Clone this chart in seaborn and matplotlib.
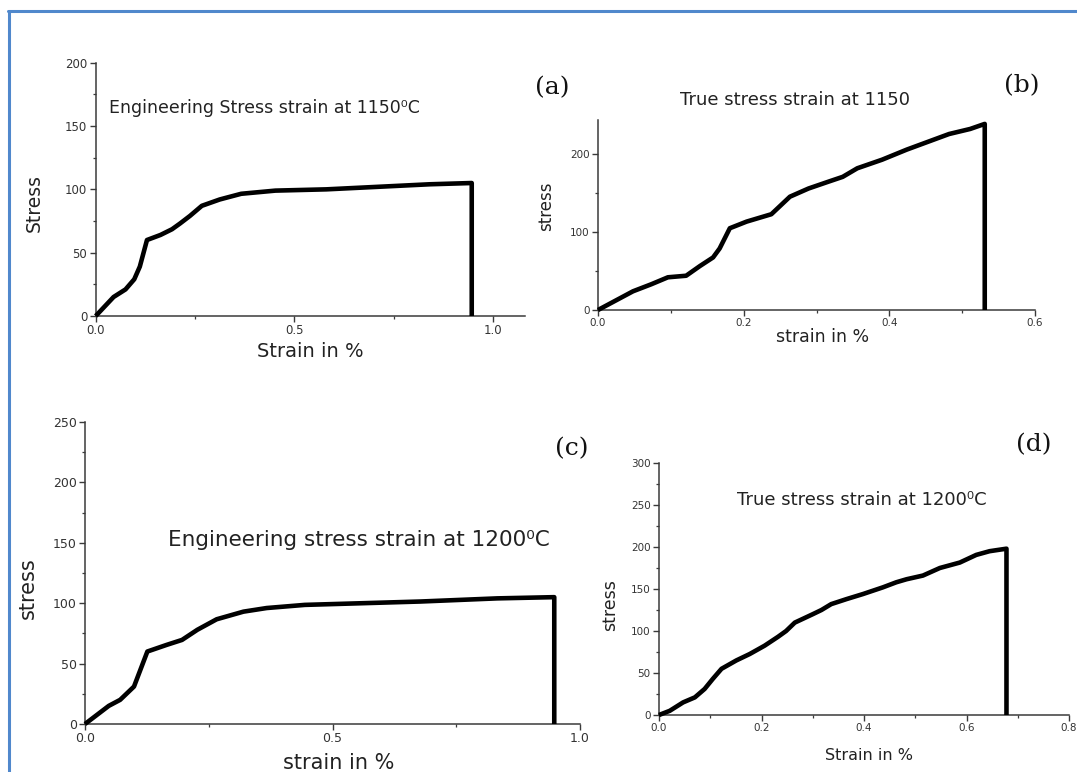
import matplotlib
matplotlib.use("Agg")
import matplotlib.pyplot as plt
from matplotlib.lines import Line2D
from matplotlib.ticker import MultipleLocator, FormatStrFormatter
import seaborn as sns

# ---- data -------------------------------------------------------------
# (a) engineering stress-strain at 1150 C
strain_a = [0, 0.045, 0.075, 0.097, 0.111, 0.129, 0.163, 0.192, 0.212, 0.237,
            0.267, 0.312, 0.366, 0.452, 0.58, 0.71, 0.84, 0.946, 0.946]
stress_a = [0, 15, 21, 29, 39, 60, 64, 68.5, 73, 79,
            87, 92, 96.5, 99, 100, 102, 104, 105, 0]

# (b) true stress-strain at 1150 C
strain_b = [0, 0.048, 0.073, 0.096, 0.121, 0.14, 0.158, 0.167, 0.181, 0.204,
            0.238, 0.2635, 0.289, 0.317, 0.336, 0.356, 0.39, 0.424, 0.453,
            0.482, 0.511, 0.531, 0.531]
stress_b = [0, 24, 33, 42, 44, 56.5, 67.5, 79, 105, 113.5,
            123, 145.5, 156, 165, 171, 182, 193, 206, 216,
            226, 232.5, 239, 0]

# (c) engineering stress-strain at 1200 C
strain_c = [0, 0.048, 0.071, 0.099, 0.126, 0.165, 0.196, 0.227, 0.266, 0.32,
            0.367, 0.444, 0.561, 0.678, 0.833, 0.948, 0.948]
stress_c = [0, 15, 20, 31, 60, 65.5, 69.6, 78, 86.7, 93,
            96, 98.6, 100, 101.4, 104, 105, 0]

# (d) true stress-strain at 1200 C
strain_d = [0, 0.021, 0.047, 0.07, 0.089, 0.105, 0.122, 0.151, 0.177, 0.206,
            0.232, 0.248, 0.265, 0.30, 0.317, 0.336, 0.366, 0.398, 0.437,
            0.463, 0.483, 0.515, 0.548, 0.587, 0.619, 0.645, 0.678, 0.678]
stress_d = [0, 5, 15, 21, 31, 43, 55, 65, 72.6, 82.5,
            93, 100, 110, 120, 125, 132, 138, 144, 152,
            158, 161.6, 166, 175, 181.5, 190.6, 195, 198, 0]

titles = ["Engineering Stress strain at 1150\u2070C",
          "True stress strain at 1150",
          "Engineering stress strain at 1200\u2070C",
          "True stress strain at 1200\u2070C"]
xlabels = ["Strain in %", "strain in %", "strain in %", "Strain in %"]
ylabels = ["Stress", "stress", "stress", "stress"]
panel_tags = ["(a)", "(b)", "(c)", "(d)"]

# ---- style ------------------------------------------------------------
sns.set_style("ticks")
plt.rcParams["font.family"] = ["DejaVu Sans"]
AX_COL = "#3a3a3a"

W, H = 1077, 772
fig = plt.figure(figsize=(W / 100, H / 100), dpi=100)
fig.patch.set_facecolor("white")


def px_axes(left, right, top, bottom):
    return fig.add_axes([left / W, 1 - bottom / H, (right - left) / W, (bottom - top) / H])


def style_axes(ax, xlim, ylim, xmaj, xmin, ymaj, ymin, xfmt, tick_fs):
    ax.set_xlim(*xlim)
    ax.set_ylim(*ylim)
    ax.xaxis.set_major_locator(MultipleLocator(xmaj))
    ax.xaxis.set_minor_locator(MultipleLocator(xmin))
    ax.yaxis.set_major_locator(MultipleLocator(ymaj))
    ax.yaxis.set_minor_locator(MultipleLocator(ymin))
    ax.xaxis.set_major_formatter(FormatStrFormatter(xfmt))
    ax.yaxis.set_major_formatter(FormatStrFormatter("%d"))
    sns.despine(ax=ax)
    for s in ("left", "bottom"):
        ax.spines[s].set_color(AX_COL)
        ax.spines[s].set_linewidth(1.1)
    ax.tick_params(which="major", direction="out", length=4, width=1,
                   color=AX_COL, labelcolor="#333333", labelsize=tick_fs, pad=2)
    ax.tick_params(which="minor", direction="out", length=2.5, width=0.9, color=AX_COL)
    ax.set_facecolor("white")
    ax.grid(False)


def draw_curve(ax, x, y):
    sns.lineplot(x=x, y=y, ax=ax, sort=False, estimator=None, color="black",
                 linewidth=3.3, clip_on=False, zorder=5,
                 solid_joinstyle="round", solid_capstyle="butt")


def labels(ax, xl, yl, fs_x, fs_y, xpos, ypos):
    ax.set_xlabel(xl, fontsize=fs_x, color="#222222")
    ax.set_ylabel(yl, fontsize=fs_y, color="#222222")
    ax.xaxis.set_label_coords(*xpos)
    ax.yaxis.set_label_coords(*ypos)
    ax.xaxis.label.set_va("center")
    ax.yaxis.label.set_va("center")


# (a)
ax_a = px_axes(95.7, 525, 62.7, 316)
draw_curve(ax_a, strain_a, stress_a)
style_axes(ax_a, (0, 1.08), (0, 200), 0.5, 0.25, 50, 25, "%.1f", 8.5)
ax_a.set_xticks([0, 0.5, 1.0])
labels(ax_a, xlabels[0], ylabels[0], 14, 13.5, (0.50, -0.142), (-0.144, 0.448))
ax_a.text(0.032, 0.82, titles[0], transform=ax_a.transAxes, ha="left", va="center",
          fontsize=12.5, color="#222222")

# (b)
ax_b = px_axes(598, 1035, 120, 310)
draw_curve(ax_b, strain_b, stress_b)
style_axes(ax_b, (0, 0.6), (0, 244), 0.2, 0.1, 100, 50, "%.1f", 7.5)
labels(ax_b, xlabels[1], ylabels[1], 12.5, 12, (0.513, -0.142), (-0.119, 0.547))
ax_b.text(0.45, 1.105, titles[1], transform=ax_b.transAxes, ha="center", va="center",
          fontsize=13, color="#222222")

# (c)
ax_c = px_axes(85, 580, 422, 724)
draw_curve(ax_c, strain_c, stress_c)
style_axes(ax_c, (0, 1.0), (0, 250), 0.5, 0.25, 50, 25, "%.1f", 9)
labels(ax_c, xlabels[2], ylabels[2], 15, 15, (0.513, -0.129), (-0.115, 0.45))
ax_c.text(0.168, 0.609, titles[2], transform=ax_c.transAxes, ha="left", va="center",
          fontsize=15.5, color="#222222")

# (d)
ax_d = px_axes(659, 1069, 463, 715)
draw_curve(ax_d, strain_d, stress_d)
style_axes(ax_d, (0, 0.8), (0, 300), 0.2, 0.1, 50, 25, "%.1f", 7.5)
labels(ax_d, xlabels[3], ylabels[3], 11.5, 12.5, (0.512, -0.159), (-0.12, 0.437))
ax_d.text(0.19, 0.853, titles[3], transform=ax_d.transAxes, ha="left", va="center",
          fontsize=13, color="#222222")

# panel tags
for tag, (px, py) in zip(panel_tags, [(552, 88), (1022, 86), (572, 449), (1034, 445)]):
    fig.text(px / W, 1 - py / H, tag, ha="center", va="center", fontsize=18,
             family="DejaVu Serif", color="#111111")

# page frame (left and top edges)
frame_col = "#5088cc"
fig.add_artist(Line2D([8.5 / W, 8.5 / W], [0, 1 - 10.5 / H], transform=fig.transFigure,
                      color=frame_col, lw=2.2))
fig.add_artist(Line2D([7.5 / W, 1], [1 - 10.5 / H, 1 - 10.5 / H], transform=fig.transFigure,
                      color=frame_col, lw=2.2))

fig.savefig("out.png", dpi=100, facecolor="white")
